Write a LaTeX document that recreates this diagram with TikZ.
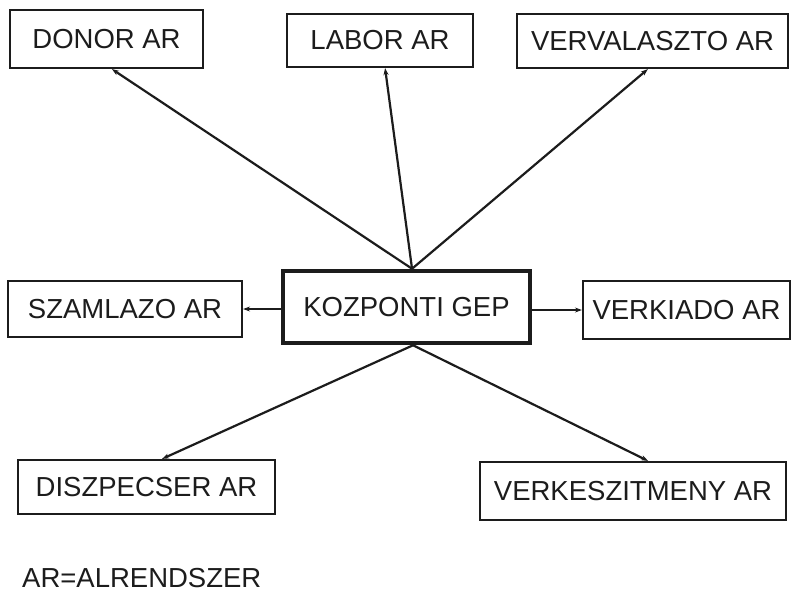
\documentclass[tikz,border=0pt]{standalone}
\usepackage{fontspec}
\setmainfont{Liberation Sans}
\usetikzlibrary{arrows.meta,calc}
\definecolor{ink}{HTML}{1C1C1C}
\begin{document}
\begin{tikzpicture}[x=1pt,y=-1pt,
  every node/.style={font=\fontsize{27.5}{30}\selectfont, text=ink, inner sep=0pt},
  subbox/.style={draw=ink, line width=2.2pt, rectangle},
  hubbox/.style={draw=ink, line width=4.5pt, rectangle},
  link/.style={draw=ink, line width=2.2pt, -{Stealth[length=7pt,width=5pt]}}]
\useasboundingbox[fill=white] (0,0) rectangle (793,595);

% subsystem boxes
\node[subbox, minimum width=193pt, minimum height=58pt] (donor) at (106.5,39) {DONOR AR};
\node[subbox, minimum width=186pt, minimum height=53pt] (labor) at (380,40.5) {LABOR AR};
\node[subbox, minimum width=271pt, minimum height=54pt] (verval) at (652.5,41) {VERVALASZTO AR};
\node[subbox, minimum width=234pt, minimum height=56pt] (szaml) at (125,309) {SZAMLAZO AR};
\node[hubbox, minimum width=247pt, minimum height=72pt] (kozp) at (406.5,307) {KOZPONTI GEP};
\node[subbox, minimum width=207pt, minimum height=58pt] (verkiad) at (686.5,310) {VERKIADO AR};
\node[subbox, minimum width=257pt, minimum height=54pt] (diszp) at (146.5,487) {DISZPECSER AR};
\node[subbox, minimum width=306pt, minimum height=58pt] (verkesz) at (633,491) {VERKESZITMENY AR};

% legend
\node[anchor=west] (legend) at (22,578) {AR=ALRENDSZER};

% attachment points on the central box
\coordinate (ktop) at ($(kozp.north west)!0.522!(kozp.north east)$);
\coordinate (kbot) at ($(kozp.south west)!0.526!(kozp.south east)$);

% connectors
\draw[link] (ktop) -- ($(donor.south west)!0.528!(donor.south east)$);
\draw[link] (ktop) -- ($(labor.south west)!0.527!(labor.south east)$);
\draw[link] (ktop) -- ($(verval.south west)!0.483!(verval.south east)$);
\draw[link] (kozp.west |- szaml.east) -- (szaml.east);
\draw[link] (kozp.east |- verkiad.west) -- (verkiad.west);
\draw[link] (kbot) -- ($(diszp.north west)!0.56!(diszp.north east)$);
\draw[link] (kbot) -- ($(verkesz.north west)!0.549!(verkesz.north east)$);
\end{tikzpicture}
\end{document}
